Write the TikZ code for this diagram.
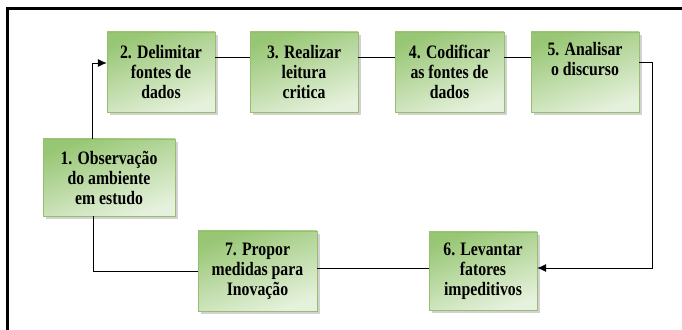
\documentclass[tikz,border=0pt]{standalone}
\usepackage{fontspec}
\setmainfont{Liberation Serif}
\newfontfamily\estreita{Liberation Serif}[FakeStretch=0.83, BoldFont={Liberation Serif Bold}]
\usetikzlibrary{arrows.meta,shadows}
\definecolor{verde}{RGB}{140,192,100}
\definecolor{bordaverde}{RGB}{150,190,110}
\tikzset{
    passo/.style={rectangle, draw=bordaverde, thin, top color=verde!90, bottom color=verde!22,
        shading angle=20, minimum width=108pt, minimum height=80pt, align=center, inner sep=2pt,
        font=\estreita\bfseries\fontsize{19}{20}\selectfont,
        drop shadow={shadow xshift=3pt, shadow yshift=-3pt, fill=black!35}},
    liga/.style={thick, black},
    seta/.style={liga, -{Latex[length=9pt,width=8pt]}}
}
\begin{document}
\begin{tikzpicture}[x=1pt, y=1pt]
    \useasboundingbox (0,0) rectangle (682,329);
    % moldura
    \draw[line width=3pt] (7.5,-5) -- (7.5,320) -- (690,320);

    % etapas
    \node[passo, minimum width=132pt, minimum height=77pt, name=n1] at (109,151.5) {1. Observação\\do ambiente\\em estudo};
    \node[passo, name=n2] at (161,257) {2. Delimitar\\fontes de\\dados};
    \node[passo, name=n3] at (304,257) {3. Realizar\\leitura\\critica};
    \node[passo, minimum width=109pt, name=n4] at (449.5,257) {4. Codificar\\as fontes de\\dados};
    \node[passo, name=n5] at (585,257) {5. Analisar\\o discurso\\\strut};
    \node[passo, minimum height=78pt, name=n6] at (483,58) {6. Levantar\\fatores\\impeditivos};
    \node[passo, minimum width=119pt, name=n7] at (257.5,58) {7. Propor\\medidas para\\Inovação};

    \coordinate (volta) at (652,61);

    % ligacoes
    \draw[seta] ([xshift=-17pt]n1.north) |- ([yshift=9pt]n2.west);
    \draw[liga] ([yshift=15pt]n2.east) -- ([yshift=15pt]n3.west);
    \draw[liga] ([yshift=15pt]n3.east) -- ([yshift=15pt]n4.west);
    \draw[liga] ([yshift=15pt]n4.east) -- ([yshift=15pt]n5.west);
    \draw[seta] ([yshift=10pt]n5.east) -| (volta) -- ([yshift=3pt]n6.east);
    \draw[liga] ([yshift=3pt]n6.west) -- ([yshift=3pt]n7.east);
    \draw[liga] (n7.west) -| ([xshift=-16pt]n1.south);
\end{tikzpicture}
\end{document}
